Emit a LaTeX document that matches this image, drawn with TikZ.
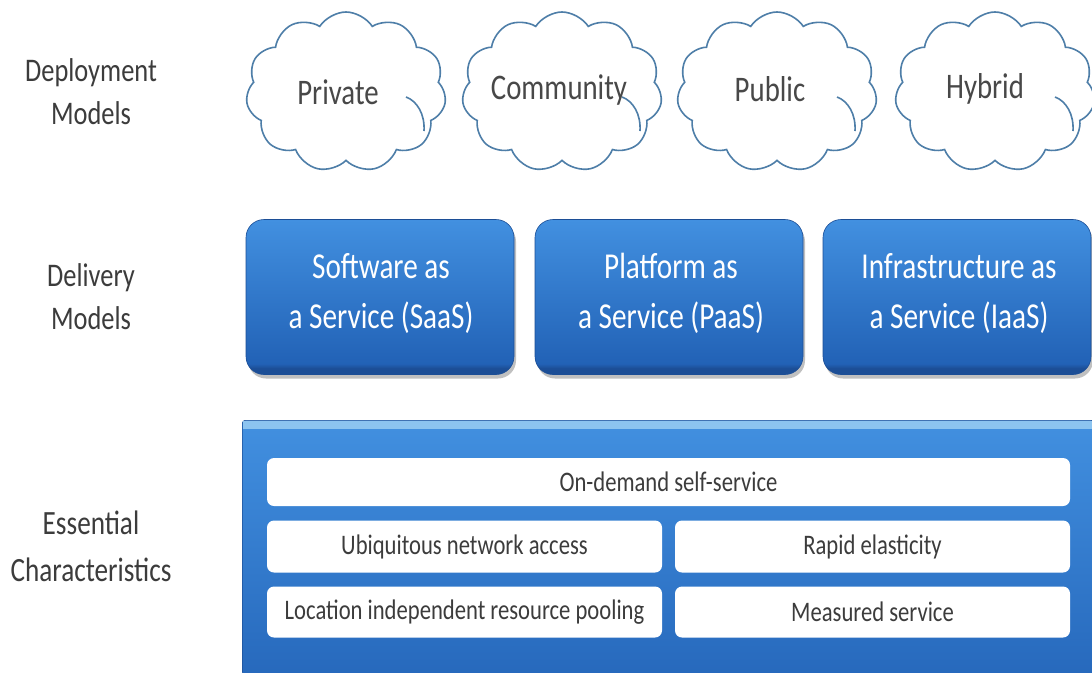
\documentclass[tikz,border=0pt]{standalone}
\usepackage{fontspec}
\setmainfont{Carlito}
\usetikzlibrary{shapes.symbols,shadows,calc}

\definecolor{cloudline}{RGB}{78,126,168}
\definecolor{txtgray}{RGB}{72,72,72}
\definecolor{capgray}{RGB}{60,60,60}
\definecolor{bluetop}{RGB}{66,144,224}
\definecolor{bluebot}{RGB}{34,98,182}
\definecolor{bluedark}{RGB}{28,78,150}
\definecolor{bluestrip}{RGB}{140,196,240}

% vertical shading for the service boxes: dark rim at the bottom
\pgfdeclareverticalshading{svcblue}{100bp}{%
  color(0bp)=(bluedark); color(27bp)=(bluedark); color(28.5bp)=(bluebot);
  color(75bp)=(bluetop); color(100bp)=(bluetop)}
\pgfdeclareverticalshading{basblue}{100bp}{%
  color(0bp)=(bluebot); color(25bp)=(bluebot);
  color(75bp)=(bluetop); color(100bp)=(bluetop)}

\newcommand\narrowtxt[2]{\scalebox{0.8}[1]{#2}}
\newcommand\twoline[3]{\scalebox{0.8}[1]{\fontsize{#1}{#2}\selectfont
  \begin{tabular}{@{}c@{}}#3\end{tabular}}}

\tikzset{
  cloudnode/.style={cloud, cloud puffs=11, cloud puff arc=115, aspect=1.25,
    draw=cloudline, line width=1.6pt, fill=white,
    minimum width=200pt, minimum height=160pt, inner sep=0pt},
  cloudtxt/.style={text=txtgray, font=\fontsize{36}{40}\selectfont, inner sep=0pt},
  svcbox/.style={rounded corners=18pt, shading=svcblue, draw=bluedark, line width=0.6pt,
    drop shadow={shadow xshift=2pt, shadow yshift=-4pt, opacity=0.35, fill=black!70},
    minimum width=268pt, minimum height=155pt, inner sep=0pt},
  svctxt/.style={text=white, inner sep=0pt},
  featbox/.style={rounded corners=7pt, fill=white, draw=none, inner sep=0pt},
  feattxt/.style={text=capgray, font=\fontsize{28.3}{31}\selectfont, inner sep=0pt},
  sidelbl/.style={text=capgray, inner sep=0pt},
}

\begin{document}
\begin{tikzpicture}[x=1pt, y=-1pt]
\useasboundingbox (0,0) rectangle (1092,672);
\clip (0,0) rectangle (1092,672);
\fill[white] (0,0) rectangle (1092,672);

% side captions
\node[sidelbl] (capdep) at (91,94) {\twoline{33}{43}{Deployment\\Models}};
\node[sidelbl] (capdel) at (91,299) {\twoline{33}{43}{Delivery\\Models}};
\node[sidelbl] (capess) at (91,549) {\twoline{34}{47}{Essential\\Characteristics}};

% deployment models
\node[cloudnode] (priv) at (346,92) {};
\node[cloudnode] (comm) at (562,92) {};
\node[cloudnode] (publ) at (777,92) {};
\node[cloudnode] (hybr) at (995,92) {};
% inner curl of each cloud, running down into the outline
\foreach \c in {priv,comm,publ,hybr}{
  \draw[cloudline, line width=1.6pt]
    ($(\c.center)+(60,5)$) .. controls ($(\c.center)+(71,9)$) and ($(\c.center)+(79,22)$) .. ($(\c.center)+(78,39)$);
}
\node[cloudtxt] (privT) at (338,92) {\narrowtxt{}{Private}};
\node[cloudtxt] (commT) at (559,90) {\narrowtxt{}{Community}};
\node[cloudtxt] (publT) at (770,89) {\narrowtxt{}{Public}};
\node[cloudtxt] (hybrT) at (985,89) {\narrowtxt{}{Hybrid}};

% delivery models
\node[svcbox] (saas) at (380,297) {};
\node[svcbox] (paas) at (669,297) {};
\node[svcbox] (iaas) at (957,297) {};
\node[svctxt] (saasT) at (381,293) {\twoline{36.5}{50}{Software as\\a Service (SaaS)}};
\node[svctxt] (paasT) at (671,293) {\twoline{36.5}{50}{Platform as\\a Service (PaaS)}};
\node[svctxt] (iaasT) at (959,293) {\twoline{36.5}{50}{Infrastructure as\\a Service (IaaS)}};

% essential characteristics
\node[shading=basblue, draw=bluedark, line width=0.6pt, minimum width=852pt,
      minimum height=300pt, inner sep=0pt, anchor=north west,
      rounded corners=3pt] (ess) at (242,420) {};
\fill[bluestrip] ($(ess.north west)+(1,1)$) rectangle ($(ess.north east)+(-1,9)$);

\node[featbox, minimum width=803pt, minimum height=48pt] (f1) at (668.5,482) {};
\node[featbox, minimum width=395pt, minimum height=52pt] (f2) at (464.5,546.5) {};
\node[featbox, minimum width=395pt, minimum height=52pt] (f3) at (872.5,546.5) {};
\node[featbox, minimum width=395pt, minimum height=51pt] (f4) at (464.5,612) {};
\node[featbox, minimum width=395pt, minimum height=51pt] (f5) at (872.5,612) {};

\node[feattxt] (f1T) at (f1) {\narrowtxt{}{On-demand self-service}};
\node[feattxt] (f2T) at (f2) {\narrowtxt{}{Ubiquitous network access}};
\node[feattxt] (f3T) at (f3) {\narrowtxt{}{Rapid elasticity}};
\node[feattxt] (f4T) at (f4) {\narrowtxt{}{Location independent resource pooling}};
\node[feattxt] (f5T) at (f5) {\narrowtxt{}{Measured service}};
\end{tikzpicture}
\end{document}
